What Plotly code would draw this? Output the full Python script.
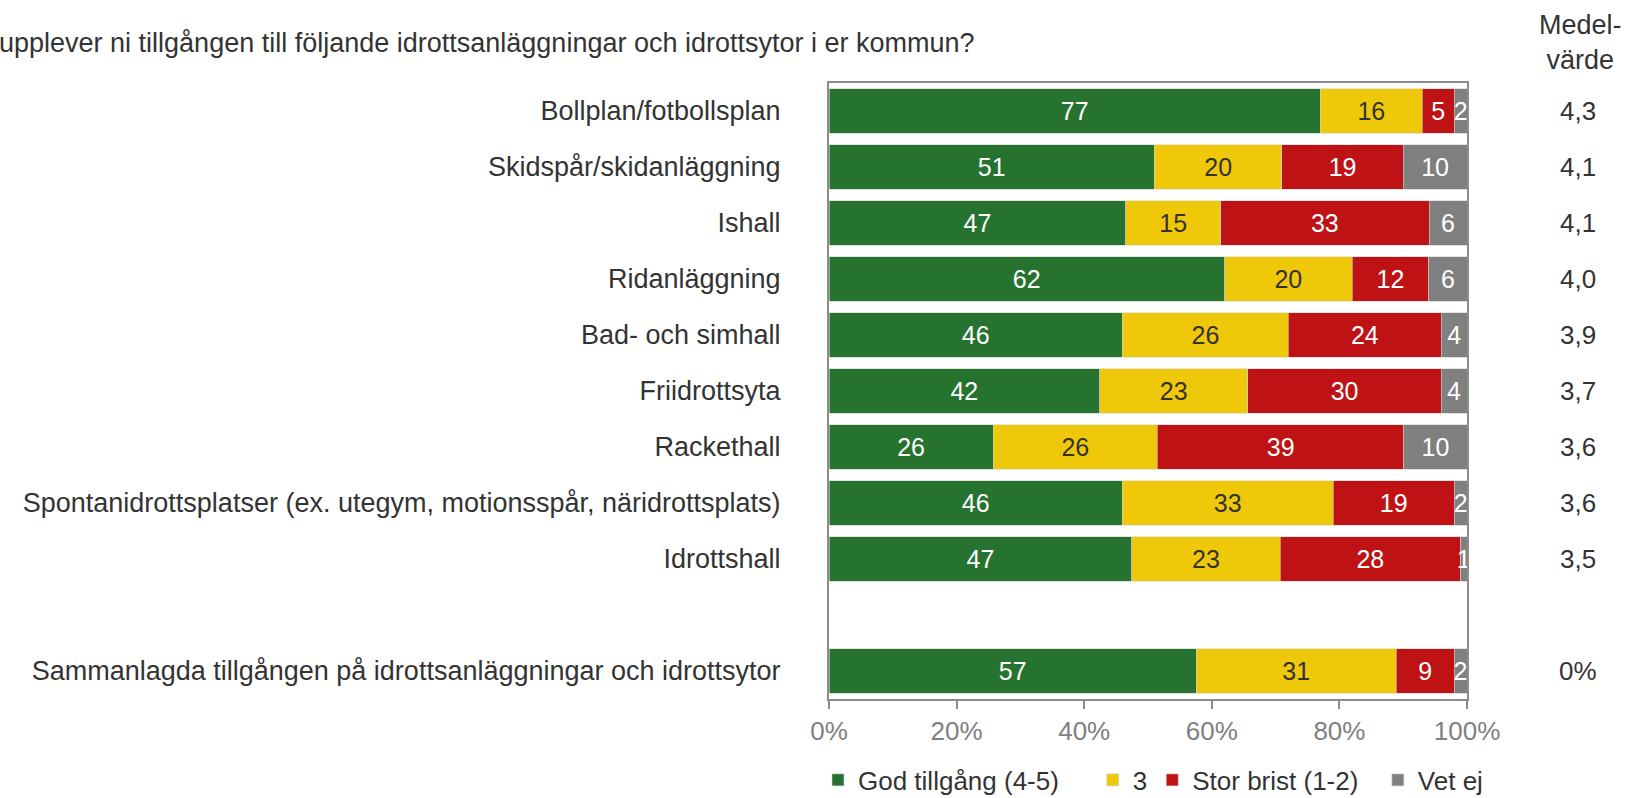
import plotly.graph_objects as go

categories = [
    "Bollplan/fotbollsplan",
    "Skidspår/skidanläggning",
    "Ishall",
    "Ridanläggning",
    "Bad- och simhall",
    "Friidrottsyta",
    "Rackethall",
    "Spontanidrottsplatser (ex. utegym, motionsspår, näridrottsplats)",
    "Idrottshall",
    "Sammanlagda tillgången på idrottsanläggningar och idrottsytor",
]
god = [77, 51, 47, 62, 46, 42, 26, 46, 47, 57]
tre = [16, 20, 15, 20, 26, 23, 26, 33, 23, 31]
brist = [5, 19, 33, 12, 24, 30, 39, 19, 28, 9]
vetej = [2, 10, 6, 6, 4, 4, 10, 2, 1, 2]
medel = ["4,3", "4,1", "4,1", "4,0", "3,9", "3,7", "3,6", "3,6", "3,5", "0%"]

series_names = ["God tillgång (4-5)", "3", "Stor brist (1-2)", "Vet ej"]
series_vals = [god, tre, brist, vetej]
colors = ["#26732F", "#F0C80A", "#BE1214", "#808080"]
text_colors = ["white", "#333333", "white", "white"]
# non-breaking padding so legend entries sit where the reference has them
legend_pad = [4, 0, 2, 0]

title_text = "upplever ni tillgången till följande idrottsanläggningar och idrottsytor i er kommun?"

# slot order (blank gap before the summary row)
slot_order = categories[:9] + [" "] + categories[9:]

FONT = "Liberation Sans, Arial, sans-serif"
FS = 26
FS_LAB = 27

fig = go.Figure()
for name, vals, col, tcol, pad in zip(series_names, series_vals, colors, text_colors, legend_pad):
    fig.add_trace(go.Bar(
        y=categories, x=vals, name=name + "\u00a0" * pad, orientation="h",
        marker=dict(color=col, line=dict(color="#d0d0d0", width=0.6)),
        text=[str(v) for v in vals], textposition="inside",
        insidetextanchor="middle", constraintext="none",
        textfont=dict(family=FONT, size=25, color=tcol),
        hoverinfo="skip",
    ))

W, H = 1628, 798
ml, mr, mt, mb = 829, 161, 83, 99
pw = W - ml - mr
ph = H - mt - mb

def px_to_paper_x(px):
    return (px - ml) / pw

def px_to_paper_y(py):
    return (H - mb - py) / ph

annotations = []
annotations.append(dict(
    text=title_text, xref="paper", yref="paper",
    x=px_to_paper_x(-3), y=px_to_paper_y(43), xanchor="left", yanchor="middle",
    showarrow=False, font=dict(family=FONT, size=FS_LAB, color="#333333"),
))
annotations.append(dict(
    text="Medel-<br>värde", xref="paper", yref="paper",
    x=px_to_paper_x(1580), y=px_to_paper_y(42), xanchor="center", yanchor="middle",
    showarrow=False, font=dict(family=FONT, size=FS_LAB, color="#333333"),
))
for cat, m in zip(categories, medel):
    annotations.append(dict(
        text=m, xref="paper", yref="y", x=px_to_paper_x(1578), y=cat,
        xanchor="center", yanchor="middle", showarrow=False,
        font=dict(family=FONT, size=FS, color="#333333"),
    ))

fig.update_layout(
    width=W, height=H,
    barmode="stack", barnorm="percent", bargap=0.2,
    margin=dict(l=ml, r=mr, t=mt, b=mb, autoexpand=False),
    paper_bgcolor="white", plot_bgcolor="white",
    font=dict(family=FONT, size=FS, color="#333333"),
    showlegend=True,
    legend=dict(
        orientation="h", x=px_to_paper_x(818), y=px_to_paper_y(780),
        xanchor="left", yanchor="middle",
        font=dict(family=FONT, size=FS, color="#333333"),
        itemwidth=30, traceorder="normal", itemclick=False,
    ),
    annotations=annotations,
)
fig.update_xaxes(
    range=[0, 100], dtick=20, ticksuffix="%", showgrid=False, zeroline=False,
    showline=True, linecolor="#8c8c8c", linewidth=2, mirror=True,
    ticks="outside", ticklen=8, tickcolor="#8c8c8c", tickwidth=2,
    tickfont=dict(family=FONT, size=FS, color="#808080"),
)
fig.update_yaxes(
    type="category", categoryorder="array", categoryarray=slot_order,
    autorange="reversed", showgrid=False, zeroline=False,
    showline=True, linecolor="#8c8c8c", linewidth=2, mirror=True,
    ticks="", ticklabelstandoff=41,
    tickfont=dict(family=FONT, size=FS_LAB, color="#333333"),
)

fig.write_html("out.html", config={"displayModeBar": False},
               post_script="document.body.style.margin='0';")
